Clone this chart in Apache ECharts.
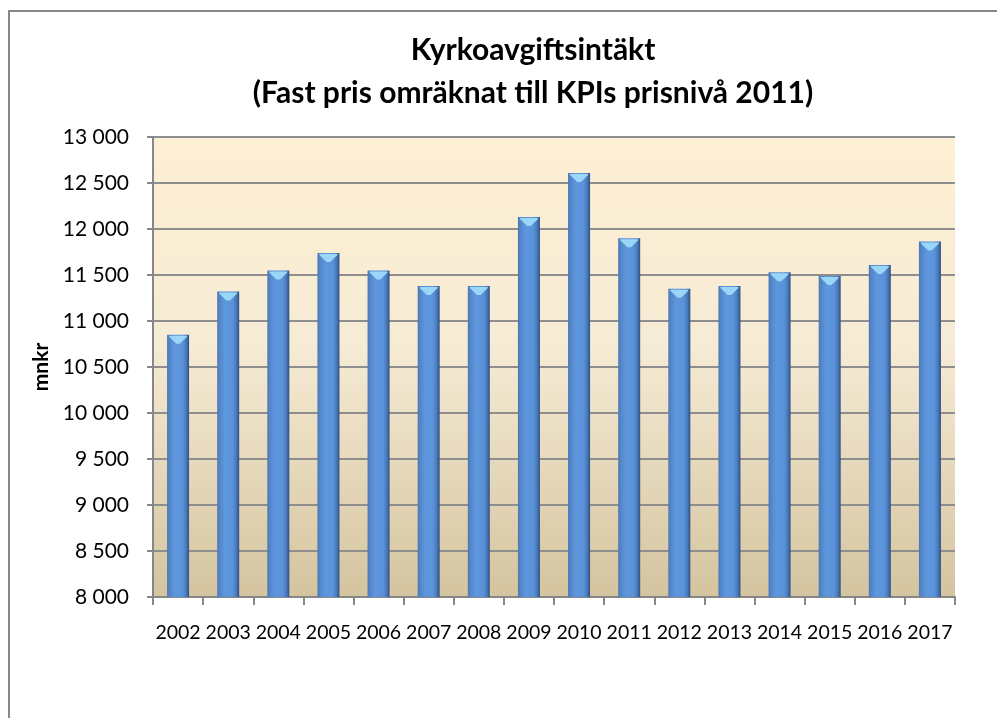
<!DOCTYPE html>
<html>
<head>
<meta charset="utf-8">
<script src="https://cdn.jsdelivr.net/npm/echarts@6/dist/echarts.min.js"></script>
<style>html,body{margin:0;padding:0;background:#fff;}#c{width:997px;height:718px;}</style>
</head>
<body>
<div id="c"></div>
<script>
const years = ['2002','2003','2004','2005','2006','2007','2008','2009','2010','2011','2012','2013','2014','2015','2016','2017'];
const values = [10850, 11320, 11550, 11740, 11550, 11380, 11380, 12130, 12610, 11900, 11350, 11380, 11530, 11490, 11610, 11865];
const yMin = 8000, yMax = 13000, yStep = 500;
const titleText = 'Kyrkoavgiftsintäkt\n(Fast pris omräknat till KPIs prisnivå 2011)';
const yName = 'mnkr';

const fmt = v => String(Math.round(v)).replace(/\B(?=(\d{3})+(?!\d))/g, ' ');
const chart = echarts.init(document.getElementById('c'), null, {renderer: 'canvas'});
chart.setOption({
  backgroundColor: '#ffffff',
  animation: false,
  textStyle: {fontFamily: 'Lato'},
  title: {
    text: titleText,
    left: 528, top: 24, textAlign: 'center',
    textStyle: {fontFamily: 'Lato', fontWeight: 'bold', fontSize: 30, lineHeight: 43, color: '#000'}
  },
  graphic: [{
    type: 'polyline', z: 100,
    shape: {points: [[9, 740], [9, 11], [1020, 11]]},
    style: {fill: null, stroke: '#878787', lineWidth: 2}
  }],
  grid: {
    left: 153, right: 42, top: 137, bottom: 121, show: true, borderWidth: 0,
    backgroundColor: {type: 'linear', x: 0, y: 0, x2: 0, y2: 1, colorStops: [
      {offset: 0, color: '#fdefd2'}, {offset: 0.45, color: '#f6ebd5'}, {offset: 1, color: '#d4c49f'}]}
  },
  xAxis: {
    type: 'category', data: years,
    axisLine: {show: true, lineStyle: {color: '#878787', width: 2}},
    axisTick: {show: true, length: 8, interval: 0, alignWithLabel: false, lineStyle: {color: '#878787', width: 2}},
    axisLabel: {interval: 0, margin: 26, fontSize: 19.5, color: '#000', fontFamily: 'Lato'}
  },
  yAxis: {
    type: 'value', min: yMin, max: yMax, interval: yStep,
    name: yName, nameLocation: 'middle', nameGap: 100, nameRotate: 90,
    nameTextStyle: {fontFamily: 'Lato', fontWeight: 'bold', fontSize: 21, color: '#000'},
    axisLine: {show: true, lineStyle: {color: '#878787', width: 2}},
    axisTick: {show: true, length: 6, lineStyle: {color: '#878787', width: 2}},
    axisLabel: {margin: 24, fontSize: 21, color: '#000', fontFamily: 'Lato', formatter: fmt},
    splitLine: {show: true, lineStyle: {color: '#8e8e8e', width: 2}}
  },
  series: [{
    type: 'bar', data: values, barWidth: 22,
    itemStyle: {
      color: {type: 'linear', x: 0, y: 0, x2: 1, y2: 0, colorStops: [
        {offset: 0, color: '#4a78b4'}, {offset: 0.12, color: '#5586c8'}, {offset: 0.35, color: '#5d97dd'},
        {offset: 0.7, color: '#5b93d9'}, {offset: 0.86, color: '#4b7bbd'}, {offset: 1, color: '#2d5080'}]}
    }
  }, {
    type: 'pictorialBar', data: values, symbol: 'path://M0,0 L20,0 L20,1 L12,8 L8,8 L0,1 Z',
    symbolSize: [18, 8], symbolPosition: 'end', symbolOffset: [0, 1], z: 5,
    itemStyle: {color: '#9ad6f7'}, silent: true
  }]
});
</script>
</body>
</html>
